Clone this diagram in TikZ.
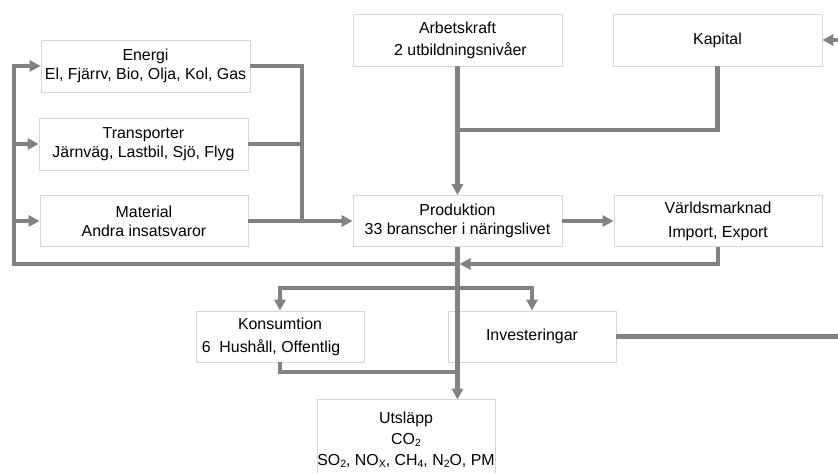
\documentclass[tikz,border=0pt]{standalone}
\usepackage{fontspec}
\setmainfont{Liberation Sans}
\usetikzlibrary{arrows.meta}
\definecolor{linegray}{RGB}{130,130,130}
\definecolor{boxgray}{RGB}{215,215,215}
\newcommand{\lowsub}[1]{\raisebox{-0.25ex}{\fontsize{10.5}{12}\selectfont #1}}
\tikzset{
  box/.style={draw=boxgray, line width=0.8pt, fill=white, inner sep=0pt, align=center,
    font=\fontsize{15.9}{19}\selectfont},
  conn/.style={draw=linegray, line width=4.5pt, line join=miter},
  arr/.style={conn, -{Triangle[length=11pt,width=11pt,fill=linegray]}},
}
\begin{document}
\begin{tikzpicture}[x=1pt,y=-1pt]
\useasboundingbox (0,0) rectangle (838,473);
% boxes
\node[box, minimum width=209pt, minimum height=52pt] (en) at (145.5,66) {Energi\\El, Fjärrv, Bio, Olja, Kol, Gas};
\node[box, minimum width=209pt, minimum height=52pt] (tr) at (143.5,144) {Transporter\\Järnväg, Lastbil, Sjö, Flyg};
\node[box, minimum width=208pt, minimum height=51pt] (mat) at (144,221) {Material\\Andra insatsvaror};
\node[box, minimum width=209pt, minimum height=52pt, font=\fontsize{15.9}{22}\selectfont] (arb) at (457.5,40) {Arbetskraft\\\hspace*{6pt}2 utbildningsnivåer};
\node[box, minimum width=209pt, minimum height=52pt] (kap) at (717.5,40) {Kapital};
\node[box, minimum width=209pt, minimum height=51pt] (prod) at (457.5,221) {Produktion\\33 branscher i näringslivet};
\node[box, minimum width=208pt, minimum height=51pt, font=\fontsize{15.9}{24}\selectfont] (vm) at (718,221) {Världsmarknad\\Import, Export};
\node[box, minimum width=168pt, minimum height=51pt, font=\fontsize{15.9}{23}\selectfont] (kon) at (280,336.5) {Konsumtion\\6\ \ Hushåll, Offentlig\hspace*{18pt}};
\node[box, minimum width=168pt, minimum height=51pt] (inv) at (532,336.5) {Investeringar};
\node[box, draw=none, minimum width=168pt, minimum height=80pt, font=\fontsize{15.9}{21}\selectfont] (uts) at (406,440) {Utsläpp\\CO\lowsub{2}\\SO\lowsub{2}, NO\lowsub{X}, CH\lowsub{4}, N\lowsub{2}O, PM};
\draw[draw=boxgray, line width=0.8pt] (uts.south west) |- (uts.north east) -- (uts.south east);
% junction coordinates
\coordinate (kj) at (457.5,130);
\coordinate (mj) at (302,221);
\coordinate (lj) at (457.5,264);
\coordinate (lc) at (14,264);
\coordinate (vj) at (459.5,264);
\coordinate (dj) at (457.5,288);
\coordinate (cj) at (457.5,372);
\coordinate (rE) at (838,336.5);
\coordinate (kin) at (838,40);
% connectors
\draw[arr] (arb.south) -- (prod.north);
\draw[conn] (kap.south) |- (kj);
\draw[conn] (en.east) -| (mj);
\draw[conn] (tr.east) -- (tr.east -| mj);
\draw[arr] (mat.east) -- (prod.west);
\draw[arr] (lj) -- (lc) |- (en.west);
\draw[arr] (lc |- tr.west) -- (tr.west);
\draw[arr] (lc |- mat.west) -- (mat.west);
\draw[arr] (prod.east) -- (vm.west);
\draw[arr] (vm.south) |- (vj);
\draw[arr] (prod.south) -- (prod.south |- uts.north);
\draw[arr] (dj) -| (kon.north);
\draw[arr] (dj) -| (inv.north);
\draw[conn] (kon.south) |- (cj);
\draw[conn] (inv.east) -- (rE);
\draw[arr] (kin) -- (kap.east);
\end{tikzpicture}
\end{document}
